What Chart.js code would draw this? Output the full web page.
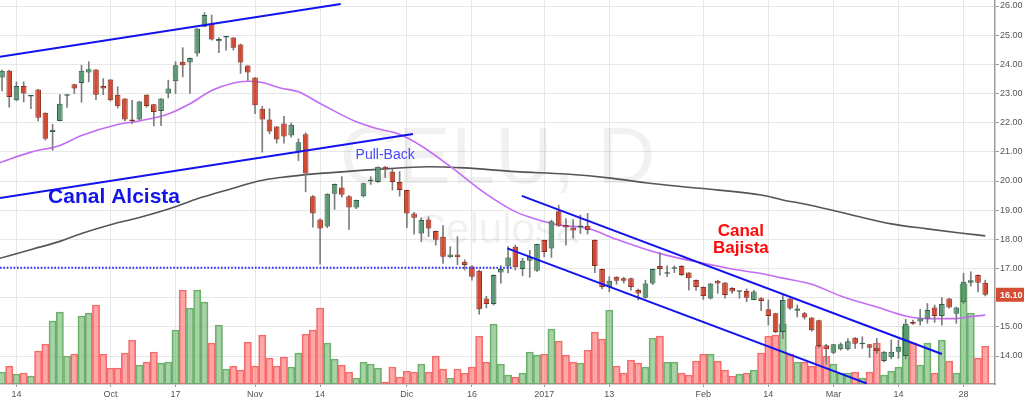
<!DOCTYPE html>
<html><head><meta charset="utf-8">
<script src="https://cdn.jsdelivr.net/npm/chart.js@4.4.1/dist/chart.umd.min.js"></script>
<style>html,body{margin:0;padding:0;background:#fff;overflow:hidden}canvas{display:block}</style>
</head><body>
<canvas id="c" width="1024" height="399"></canvas>
<script>
// ---- data (daily candles, index 0 = first visible session) ----
const opens = [
23.55,23.78,22.77,23.26,22.90,23.14,22.34,21.68,22.06,22.92,
23.32,23.36,23.72,23.82,23.26,23.48,22.96,22.83,22.11,22.11,
22.96,22.63,22.40,23.00,23.42,24.09,24.06,24.37,25.29,25.38,
24.79,24.92,24.92,24.68,23.96,23.55,22.48,22.11,21.87,21.97,
21.56,20.99,21.60,19.48,18.68,18.44,19.56,19.78,19.48,19.09,
19.48,19.99,19.97,20.49,20.32,19.97,19.69,18.89,18.20,18.68,
18.29,18.09,17.39,17.48,17.23,17.07,16.92,15.97,15.78,16.86,
17.07,17.75,16.98,17.27,16.92,17.98,17.69,18.96,18.49,18.41,
18.42,18.47,17.98,16.98,16.37,16.72,16.67,16.67,16.26,16.00,
16.49,17.09,16.82,16.99,17.09,16.86,16.61,16.37,15.97,16.58,
16.52,16.33,16.20,16.23,15.92,15.98,15.60,15.47,14.82,15.97,
15.55,15.47,15.32,15.23,14.37,14.11,14.23,14.23,14.63,14.40,
14.40,14.28,13.83,13.96,14.15,14.00,15.17,15.18,15.29,15.66,
15.37,15.97,15.45,15.84,16.51,16.78,16.51];
const highs = [
23.80,23.80,23.40,23.40,22.93,23.14,22.34,21.94,22.96,22.96,
23.32,23.97,24.09,23.82,23.51,23.48,23.23,22.83,22.77,22.73,
22.96,22.63,22.83,23.46,24.09,24.57,24.22,25.23,25.77,25.69,
24.92,24.93,24.92,24.70,23.96,23.55,22.56,22.48,21.87,22.22,
21.99,21.45,21.65,19.50,18.70,19.56,19.90,20.15,19.50,19.35,
19.92,20.15,20.49,20.50,20.40,20.32,19.69,18.93,18.74,18.77,
18.29,18.47,17.75,18.09,17.30,17.10,16.95,16.05,16.78,17.10,
17.75,17.80,17.35,17.62,17.84,17.98,18.66,19.17,18.71,18.68,
18.83,18.89,17.98,16.98,16.72,16.72,16.70,16.67,16.30,16.60,
16.98,17.55,17.09,17.09,17.10,16.86,16.61,16.37,16.49,16.60,
16.52,16.35,16.22,16.30,16.25,16.00,15.92,15.47,16.09,15.97,
15.75,15.50,15.32,15.23,14.40,14.40,14.45,14.60,14.63,14.66,
14.40,14.60,14.15,14.55,14.55,15.26,15.23,15.60,15.80,15.75,
16.00,15.98,15.68,16.84,16.89,16.78,16.60];
const lows = [
23.09,22.53,22.75,22.71,22.48,22.06,21.40,21.05,22.06,22.52,
23.00,22.70,23.40,22.79,22.96,22.74,22.50,22.06,21.97,22.08,
22.53,21.89,21.90,22.85,23.00,23.57,23.00,24.28,25.29,24.83,
24.40,24.49,24.49,23.69,23.45,22.31,20.99,21.62,21.30,21.30,
21.50,20.70,19.63,18.42,17.15,18.40,19.03,19.45,18.34,19.05,
19.45,19.88,19.95,20.12,19.69,19.48,18.40,18.18,17.92,18.09,
17.80,17.17,17.38,17.13,16.95,16.60,15.43,15.65,15.75,16.50,
16.85,16.95,16.75,16.70,16.90,17.40,17.38,18.44,17.80,18.04,
18.20,18.18,16.86,16.30,16.20,16.46,16.50,16.26,15.92,15.98,
16.45,16.77,16.72,16.86,16.76,16.26,16.25,15.94,15.95,16.15,
15.98,16.15,15.98,15.86,15.92,15.55,15.06,14.80,14.60,15.60,
15.34,15.26,14.85,14.28,13.72,14.08,14.20,14.20,14.26,14.26,
13.95,14.08,13.80,13.90,13.92,13.90,15.08,15.06,15.12,15.15,
15.06,15.64,15.12,15.80,16.40,16.20,16.06];
const closes = [
23.78,22.88,23.26,23.00,22.92,22.17,21.45,21.76,22.65,22.96,
23.17,23.78,23.83,22.96,23.17,22.77,22.56,22.11,22.06,22.73,
22.57,22.37,22.83,23.17,23.97,23.97,24.22,25.23,25.69,24.85,
24.87,24.93,24.57,24.06,23.72,22.60,22.11,21.70,21.42,21.53,
21.93,21.33,20.26,18.89,18.37,19.56,19.90,19.53,19.09,19.35,
19.92,20.01,20.49,20.40,19.97,19.69,18.89,18.74,18.66,18.37,
17.99,17.40,17.48,17.39,17.12,16.72,15.60,15.78,16.78,16.98,
17.38,17.04,17.27,17.40,17.84,17.57,18.62,18.47,18.41,18.30,
18.44,18.32,17.09,16.37,16.58,16.58,16.58,16.37,16.14,16.49,
16.98,16.98,16.84,17.01,16.78,16.67,16.37,16.06,16.49,16.49,
16.09,16.21,16.22,16.00,16.21,15.89,15.37,14.82,15.92,15.63,
15.63,15.32,14.88,14.34,14.23,14.40,14.40,14.51,14.42,14.41,
14.28,14.17,14.15,14.15,14.32,15.11,15.11,15.29,15.58,15.37,
15.78,15.66,15.66,16.55,16.60,16.51,16.10];
// volume (thousands of shares)
const volumes = [
12,18,10,11,8,33,40,63,72,28,
30,68,71,79,30,16,16,31,44,19,
22,32,21,22,54,94,76,94,82,41,
59,15,18,14,42,18,49,26,18,27,
17,31,50,54,76,41,25,19,12,6,
22,20,16,2,17,7,13,12,20,12,
28,15,6,15,11,17,48,22,60,20,
9,7,11,32,29,30,55,43,29,22,
21,34,52,45,74,18,11,24,21,17,
46,48,22,22,11,9,23,30,30,23,
14,8,10,11,14,31,48,49,60,30,
22,22,18,38,28,20,11,11,12,6,
12,41,9,13,17,58,41,19,41,11,
44,23,11,100,71,26,38];

// date axis labels (session index -> label)
const tickIdx = [2,15,24,35,44,56,65,75,84,97,106,115,124,133];
const tickLabels = ['14','Oct','17','Nov','14','Dic','16','2017','13','Feb','14','Mar','14','28'];
const priceTicks = [14,15,16,17,18,19,20,21,22,23,24,25,26];

// moving averages: [session index, price]
const maFast = [[-0.3,20.63],[4,20.99],[8,21.22],[11,21.56],[16,21.94],[19,22.06],[23,22.30],[26,22.65],
  [29,23.10],[32,23.36],[34,23.42],[36,23.38],[38.5,23.19],[41,23.06],[44,22.66],[49,22.03],[52,21.79],
  [55,21.60],[58,21.20],[62,20.50],[67,19.55],[71,18.95],[74,18.68],[77,18.49],[81,18.38],[85,18.00],
  [89,17.66],[92,17.45],[97,17.18],[101,16.98],[105,16.83],[108,16.67],[112,16.46],[116,16.06],
  [121,15.68],[125,15.37],[128,15.28],[132,15.28],[134,15.35],[136,15.40]];
const maSlow = [[-0.3,17.35],[4.3,17.67],[8,17.93],[11,18.20],[15,18.50],[19,18.75],[24,19.12],[27,19.39],
  [31.5,19.72],[35.5,20.00],[38.5,20.12],[44,20.26],[52,20.40],[59,20.49],[64,20.45],[71,20.32],[78,20.24],
  [84.5,20.09],[89,19.94],[96.5,19.75],[105,19.52],[108,19.35],[111,19.21],[116,18.93],[123,18.53],
  [128,18.36],[132.5,18.22],[136,18.12]];

// drawn studies: [session index, price]
const channelUpTop = [[-0.28,24.26],[46.85,26.07]];
const channelUpBottom = [[-0.28,19.42],[56.85,21.61]];
const channelDownTop = [[71.9,19.49],[130.0,14.07]];
const channelDownBottom = [[69.9,17.69],[119.6,13.06]];
const supportLevel = [[-0.28,17.03],[70.5,17.03]];

// text notes
const noteTexts = ['Canal Alcista','Pull-Back','Canal\nBajista'];
const noteIdx = [15.5,53.0,102.2];
const notePrice = [19.43,20.89,17.98];
const watermark = ['CELU, D','Celulosa'];

// ---- chart ----
const FONT = "'Liberation Sans', Arial, Helvetica, sans-serif";
Chart.defaults.font.family = FONT;
const sessions = closes.map((_, i) => i);
const isUp = sessions.map(i => closes[i] >= opens[i]);
const toXY = arr => arr.map(p => ({x: p[0], y: p[1]}));
const noteStyle = [
  {font: "bold 21px " + FONT, color: '#1414e8', lh: 24},
  {font: "14px " + FONT, color: '#4848ff', lh: 16},
  {font: "bold 17px " + FONT, color: '#ff0a0a', lh: 16.5}
];

const overlay = {
  id: 'overlay',
  beforeDatasetsDraw(chart) {
    const {ctx, chartArea: a} = chart;
    ctx.save();
    ctx.textAlign = 'center'; ctx.textBaseline = 'middle';
    ctx.fillStyle = 'rgba(0,0,0,0.055)';
    ctx.font = "80px " + FONT;
    ctx.fillText(watermark[0], (a.left + a.right) / 2, a.top + a.height * 0.42);
    ctx.font = "42px " + FONT;
    ctx.fillText(watermark[1], (a.left + a.right) / 2, a.top + a.height * 0.602);
    ctx.restore();
  },
  afterDatasetsDraw(chart) {
    const {ctx, scales: {x, y}} = chart;
    ctx.save();
    ctx.textAlign = 'center'; ctx.textBaseline = 'middle';
    noteTexts.forEach((t, k) => {
      const lines = t.split('\n');
      const px = x.getPixelForValue(noteIdx[k]);
      const py = y.getPixelForValue(notePrice[k]);
      ctx.font = noteStyle[k].font; ctx.fillStyle = noteStyle[k].color;
      lines.forEach((ln, j) => ctx.fillText(ln, px, py + (j - (lines.length - 1) / 2) * noteStyle[k].lh));
    });
    ctx.restore();
  },
  afterDraw(chart) {
    const {ctx, chartArea: a, scales: {y}} = chart;
    const last = closes[closes.length - 1];
    const py = y.getPixelForValue(last);
    ctx.save();
    ctx.fillStyle = '#d64d35';
    ctx.fillRect(a.right + 1, py - 7, chart.width - a.right - 1, 14);
    ctx.fillStyle = '#ffffff';
    ctx.font = "bold 9px " + FONT;
    ctx.textAlign = 'left'; ctx.textBaseline = 'middle';
    ctx.fillText(last.toFixed(2), a.right + 5, py + 0.5);
    ctx.restore();
  }
};

const trend = (data, color, extra) => Object.assign({
  type: 'line', data: toXY(data), borderColor: color, borderWidth: 2,
  pointRadius: 0, tension: 0, order: 1, yAxisID: 'y'
}, extra || {});

new Chart(document.getElementById('c'), {
  type: 'bar',
  data: {
    datasets: [
      { type: 'bar', label: 'Volumen', yAxisID: 'yv',
        data: sessions.map(i => ({x: i, y: volumes[i]})),
        backgroundColor: isUp.map(u => u ? 'rgba(95,172,95,0.55)' : 'rgba(255,95,95,0.55)'),
        borderColor: isUp.map(u => u ? '#6db26d' : '#f36e6e'),
        borderWidth: 1, grouped: false, barPercentage: 1, categoryPercentage: 1, order: 10 },
      { type: 'line', label: 'Media lenta', yAxisID: 'y', data: toXY(maSlow),
        borderColor: '#555555', borderWidth: 1.6, pointRadius: 0, cubicInterpolationMode: 'monotone', order: 8 },
      { type: 'line', label: 'Media rápida', yAxisID: 'y', data: toXY(maFast),
        borderColor: '#c46cf5', borderWidth: 1.6, pointRadius: 0, cubicInterpolationMode: 'monotone', order: 7 },
      { type: 'bar', label: 'Mechas', yAxisID: 'y',
        data: sessions.map(i => ({x: i, y: [lows[i], highs[i]]})),
        backgroundColor: '#7d7d7d', borderWidth: 0, maxBarThickness: 1,
        grouped: false, barPercentage: 1, categoryPercentage: 1, order: 6 },
      { type: 'bar', label: 'Velas', yAxisID: 'y',
        data: sessions.map(i => ({x: i, y: [opens[i], closes[i]]})),
        backgroundColor: isUp.map(u => u ? '#5f9877' : '#d14b34'),
        borderColor: isUp.map(u => u ? '#2f5d44' : '#8a2e1f'),
        borderWidth: 1, borderSkipped: false, minBarLength: 1.5,
        grouped: false, barPercentage: 0.78, categoryPercentage: 1, order: 5 },
      trend(supportLevel, '#2a2aff', {borderDash: [1.6, 1.8], order: 3, label: 'Soporte'}),
      trend(channelUpTop, '#1212ee', {label: 'Canal alcista sup.'}),
      trend(channelUpBottom, '#1212ee', {label: 'Canal alcista inf.'}),
      trend(channelDownTop, '#1212ee', {label: 'Canal bajista sup.'}),
      trend(channelDownBottom, '#1212ee', {label: 'Canal bajista inf.'})
    ]
  },
  options: {
    responsive: false, animation: false, devicePixelRatio: 1,
    layout: {padding: 0, autoPadding: false},
    plugins: {legend: {display: false}, tooltip: {enabled: false}},
    scales: {
      x: {
        type: 'linear', position: 'bottom', min: -0.277, max: 137.35, offset: false,
        afterBuildTicks: s => { s.ticks = tickIdx.map(v => ({value: v})); },
        afterFit: s => { s.height = 15; s.paddingLeft = 0; s.paddingRight = 0; },
        ticks: { autoSkip: false, maxRotation: 0, minRotation: 0, padding: 2, color: '#555555',
          font: {size: 9},
          callback: v => { const k = tickIdx.indexOf(v); return k >= 0 ? tickLabels[k] : ''; } },
        grid: { color: '#e7e7e7', tickColor: '#9a9a9a', tickLength: 3, offset: false },
        border: { color: '#9d9d9d', width: 1.5 }
      },
      y: {
        type: 'linear', position: 'right', min: 13.04, max: 26.206, beginAtZero: false,
        afterBuildTicks: s => { s.ticks = priceTicks.map(v => ({value: v})); },
        afterFit: s => { s.width = 29; s.paddingTop = 0; s.paddingBottom = 0; },
        ticks: { padding: 1, color: '#555555', font: {size: 9}, callback: v => Number(v).toFixed(2) },
        grid: { color: '#e7e7e7', tickColor: '#9a9a9a', tickLength: 4 },
        border: { color: '#9d9d9d', width: 1.5 }
      },
      yv: { type: 'linear', display: false, min: 0, max: 384, beginAtZero: true }
    }
  },
  plugins: [overlay]
});
</script>
</body></html>
